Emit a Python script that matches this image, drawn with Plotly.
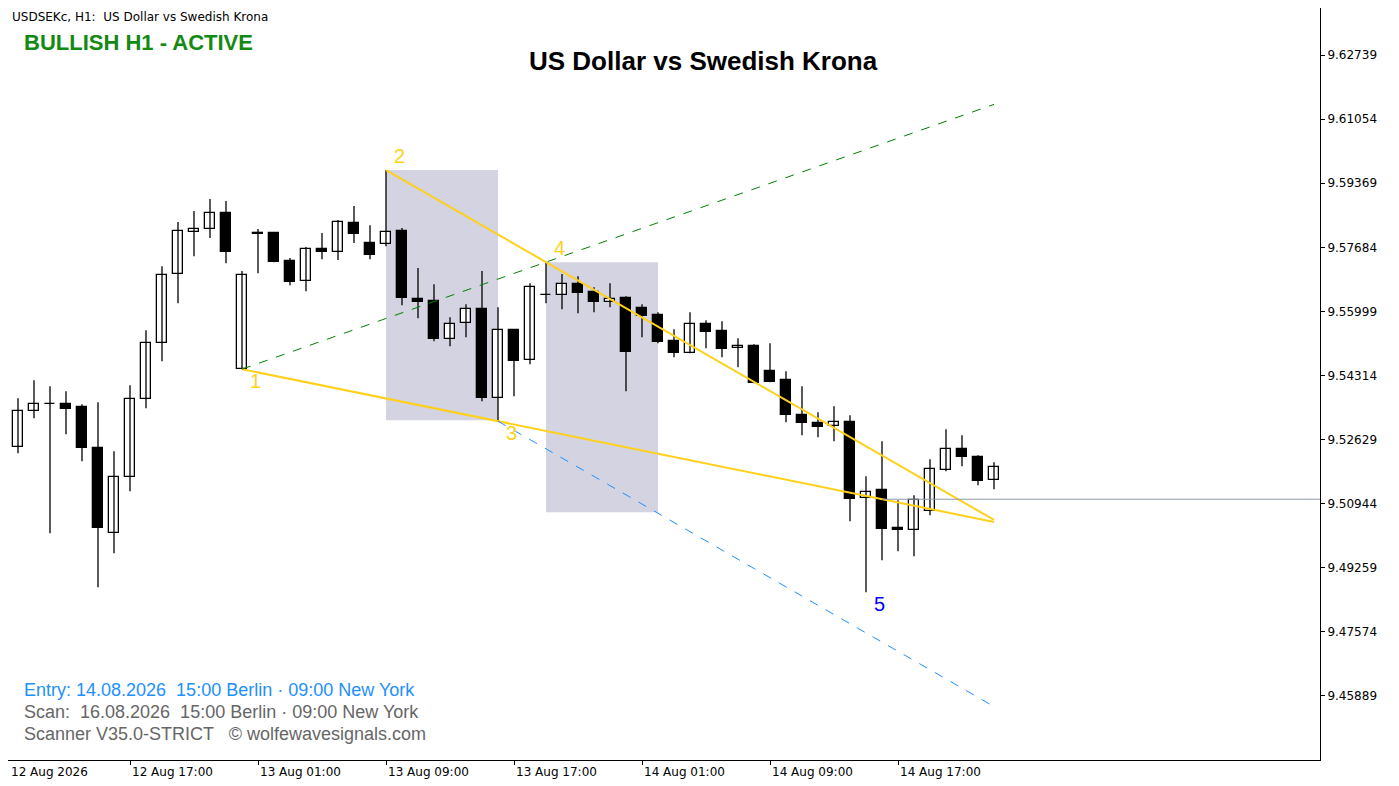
import plotly.graph_objects as go
import pandas as pd

# OHLC (H1) – USDSEK
opens  = [9.52797,9.52429,9.53376,9.53560,9.53560,9.53481,9.52403,9.50167,9.51640,9.53691,9.55164,9.56979,9.58083,9.58162,9.58583,9.54480,
          9.58031,9.58057,9.57321,9.56795,9.57636,9.57557,9.58320,9.57794,9.57768,9.58110,9.56321,9.56269,9.55269,9.55690,9.56058,9.53718,
          9.55506,9.54717,9.56426,9.56426,9.56716,9.56505,9.56242,9.56348,9.56085,9.55900,9.55217,9.54901,9.55664,9.55480,9.55033,9.55085,
          9.54428,9.54191,9.53270,9.53060,9.52981,9.53086,9.51088,9.51298,9.50299,9.50246,9.50746,9.51824,9.52376,9.52166,9.51561]
highs  = [9.52876,9.53718,9.54191,9.54033,9.53902,9.53560,9.53612,9.52324,9.54059,9.55506,9.57189,9.58346,9.58636,9.58951,9.58899,9.57058,
          9.58162,9.58057,9.57400,9.57689,9.58057,9.58399,9.58767,9.58267,9.59714,9.58189,9.57137,9.56716,9.55848,9.56190,9.57058,9.56111,
          9.55506,9.56742,9.57294,9.56979,9.56926,9.56637,9.56742,9.56400,9.56190,9.55979,9.55532,9.55979,9.55769,9.55743,9.55296,9.55138,
          9.55164,9.54428,9.54033,9.53349,9.53507,9.53270,9.51666,9.52587,9.51035,9.51166,9.52113,9.52902,9.52744,9.52218,9.52034]
lows   = [9.52350,9.52271,9.53192,9.50167,9.52771,9.52061,9.48747,9.49641,9.51272,9.53455,9.54691,9.56216,9.57452,9.57926,9.57268,9.54480,
          9.57005,9.57294,9.56689,9.56532,9.57373,9.57347,9.57794,9.57373,9.57715,9.56163,9.55822,9.55217,9.55085,9.55322,9.53639,9.53113,
          9.53770,9.54612,9.56216,9.56058,9.55953,9.55979,9.56111,9.53902,9.55322,9.55164,9.54796,9.54901,9.55033,9.54796,9.54533,9.54112,
          9.54138,9.53086,9.52744,9.52692,9.52587,9.50483,9.48615,9.49457,9.49694,9.49562,9.50640,9.51798,9.51929,9.51429,9.51324]
closes = [9.52403,9.53376,9.53560,9.53570,9.53428,9.52403,9.50296,9.51640,9.53691,9.55164,9.56952,9.58110,9.58162,9.58583,9.57557,9.56952,
          9.58057,9.57294,9.56768,9.57636,9.57557,9.58346,9.58031,9.57478,9.58083,9.56348,9.56242,9.55269,9.55664,9.56058,9.53718,9.55506,
          9.54691,9.56637,9.56420,9.56716,9.56479,9.56242,9.56321,9.54927,9.55874,9.55190,9.54901,9.55664,9.55453,9.55006,9.55085,9.54112,
          9.54138,9.53270,9.53060,9.52955,9.53086,9.51061,9.51245,9.50272,9.50246,9.51035,9.51850,9.52376,9.52166,9.51535,9.51903]
times = pd.date_range("2026-08-12 09:00", periods=len(opens), freq="h")

# Wolfe wave points (candle index, price)
wolfe_idx = [15, 24, 31, 34, 54]
wolfe_px = [lows[15], highs[24], lows[31], highs[34], lows[54]]
end_idx = 62
zone1 = (24, 31, highs[24], 9.53139)
zone2 = (34, 41, highs[34], 9.50719)
price_line = closes[53]
price_line_start = 55

yticks = [9.62739, 9.61054, 9.59369, 9.57684, 9.55999, 9.54314, 9.52629, 9.50944, 9.49259, 9.47574, 9.45889]
xtick_labels = ["12 Aug 2026", "12 Aug 17:00", "13 Aug 01:00", "13 Aug 09:00", "13 Aug 17:00",
                "14 Aug 01:00", "14 Aug 09:00", "14 Aug 17:00"]

H = pd.Timedelta(hours=1)
def t_at(i):
    return times[0] + H * i

# page-pixel -> paper coords (plot area spans page x 8..1320, y 8..760)
def px(x):
    return (x - 8) / 1312
def py(y):
    return 1 - (y - 8) / 752

fig = go.Figure()

for a, b, top, bot in (zone1, zone2):
    fig.add_shape(type="rect", x0=t_at(a), x1=t_at(b), y0=bot, y1=top, fillcolor="#d3d3e1",
                  line_width=0, layer="below")

wx, wy = [], []
for t, h, l in zip(times, highs, lows):
    wx += [t, t, None]; wy += [h, l, None]
fig.add_trace(go.Scatter(x=wx, y=wy, mode="lines", line=dict(color="black", width=1.3), hoverinfo="skip"))

base = [min(o, c) for o, c in zip(opens, closes)]
hgt = [max(abs(c - o), 0.00008) for o, c in zip(opens, closes)]
cols = ["white" if c >= o else "black" for o, c in zip(opens, closes)]
fig.add_trace(go.Bar(x=times, y=hgt, base=base, width=2250000, marker=dict(color=cols, line=dict(color="black", width=1.3))))

def line_val(i0, p0, i1, p1, i):
    return p0 + (p1 - p0) * (i - i0) / (i1 - i0)

i1, i2, i3, i4, i5 = wolfe_idx
p1, p2, p3, p4, p5 = wolfe_px
gold = "#FFD11A"
fig.add_trace(go.Scatter(x=[t_at(i1), t_at(end_idx)], y=[p1, line_val(i1, p1, i3, p3, end_idx)],
                         mode="lines", line=dict(color=gold, width=2)))
fig.add_trace(go.Scatter(x=[t_at(i2), t_at(end_idx)], y=[p2, line_val(i2, p2, i4, p4, end_idx)],
                         mode="lines", line=dict(color=gold, width=2)))
fig.add_trace(go.Scatter(x=[t_at(i1), t_at(end_idx)], y=[p1, line_val(i1, p1, i4, p4, end_idx)],
                         mode="lines", line=dict(color="green", width=1, dash="dash")))
fig.add_trace(go.Scatter(x=[t_at(i3), t_at(end_idx)], y=[p3, p3 + (p4 - p2) / (i4 - i2) * (end_idx - i3)],
                         mode="lines", line=dict(color="#1E90FF", width=1, dash="dash")))
fig.add_trace(go.Scatter(x=[t_at(price_line_start), t_at(85)], y=[price_line, price_line],
                         mode="lines", line=dict(color="#8c9aab", width=1)))

for k, (i, p) in enumerate(zip(wolfe_idx, wolfe_px)):
    fig.add_annotation(x=t_at(i) + pd.Timedelta(minutes=50), y=p + (0.0037 if k in (1, 3) else -0.0030),
                       text=str(k + 1), showarrow=False, font=dict(size=20, color=("blue" if k == 4 else gold)))

xt = [t_at(8 * k) for k in range(len(xtick_labels))]
for k, (t, s) in enumerate(zip(xt, xtick_labels)):
    if k == 0:
        fig.add_annotation(x=px(9), y=py(772), xref="paper", yref="paper", yanchor="middle", xanchor="left",
                           text=s, showarrow=False, font=dict(size=12, color="black", family="DejaVu Sans"))
    else:
        fig.add_annotation(x=t, y=py(772), xref="x", yref="paper", yanchor="middle", xanchor="left", text=s,
                           showarrow=False, font=dict(size=12, color="black", family="DejaVu Sans"))

fig.add_annotation(x=px(10), y=py(17), xref="paper", yref="paper", xanchor="left", yanchor="middle",
                   text="USDSEKc, H1:  US Dollar vs Swedish Krona", showarrow=False,
                   font=dict(size=12, color="black", family="DejaVu Sans"))
fig.add_annotation(x=px(22), y=py(42), xref="paper", yref="paper", xanchor="left", yanchor="middle",
                   text="<b>BULLISH H1 - ACTIVE</b>", showarrow=False, font=dict(size=22, color="#138a13"))
fig.add_annotation(x=px(703), y=py(61), xref="paper", yref="paper", xanchor="center", yanchor="middle",
                   text="<b>US Dollar vs Swedish Krona</b>", showarrow=False, font=dict(size=26, color="black"))
bl = [("Entry: 14.08.2026  15:00 Berlin · 09:00 New York", "#1E90FF", 690),
      ("Scan:  16.08.2026  15:00 Berlin · 09:00 New York", "#666666", 712),
      ("Scanner V35.0-STRICT   © wolfewavesignals.com", "#666666", 734)]
for s, c, yy in bl:
    fig.add_annotation(x=px(22), y=py(yy), xref="paper", yref="paper", xanchor="left", yanchor="middle",
                       text=s, showarrow=False, font=dict(size=18, color=c))

fig.update_layout(
    width=1391, height=778, margin=dict(l=0, r=79, t=0, b=26),
    paper_bgcolor="white", plot_bgcolor="white", showlegend=False,
    font=dict(family="Liberation Sans, Arial, sans-serif"), bargap=0,
    xaxis=dict(range=[t_at(0.375), t_at(82.375)], showgrid=False, showline=True, mirror=True, linecolor="black",
               tickvals=xt, showticklabels=False, ticks="outside", ticklen=4, tickcolor="black", zeroline=False),
    yaxis=dict(range=[9.44206, 9.63975], side="right", showgrid=False, showline=True, mirror=True, linecolor="black",
               tickvals=yticks, ticktext=[f"{v:.5f}" for v in yticks], ticks="outside", ticklen=4, tickcolor="black",
               tickfont=dict(size=12, color="black", family="DejaVu Sans"), zeroline=False),
)
fig.write_html("out.html")
